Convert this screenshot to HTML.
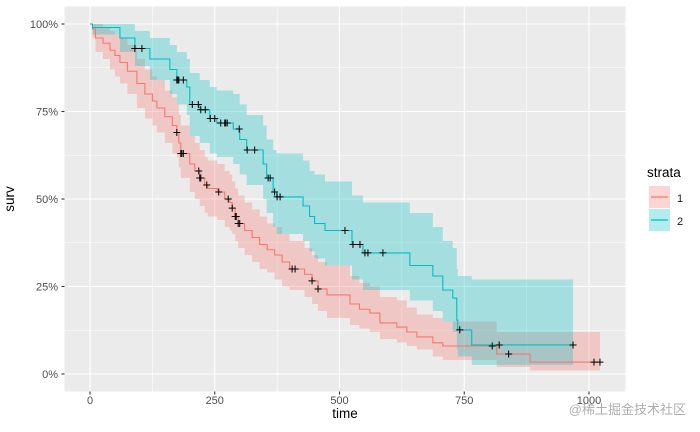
<!DOCTYPE html>
<html><head><meta charset="utf-8"><style>
html,body{margin:0;padding:0;background:#fff;}
svg{display:block;font-family:"Liberation Sans","Noto Sans CJK SC",sans-serif;}
</style></head><body>
<svg id="chart" width="700" height="432" viewBox="0 0 700 432">
<rect x="64.5" y="6.5" width="561" height="385" fill="#EBEBEB"/>
<g id="grid"></g>
<g id="bands"></g>
<g id="lines"></g>
<g id="censors"></g>
<g id="axes"></g>
<text x="14" y="199" transform="rotate(-90 14 199)" text-anchor="middle" font-size="13.5" fill="#000">surv</text>
<text x="345" y="418" text-anchor="middle" font-size="13.5" fill="#000">time</text>
<g>
<text x="647" y="177" font-size="13.5" fill="#000">strata</text>
<g>
<rect x="649" y="186" width="21" height="22" fill="#F8766D" fill-opacity="0.3"/>
<line x1="651" x2="668" y1="197" y2="197" stroke="#F8766D" stroke-width="1.2"/>
<text x="677" y="202" font-size="11" fill="#1a1a1a">1</text></g>
<g>
<rect x="649" y="209" width="21" height="22" fill="#00BFC4" fill-opacity="0.3"/>
<line x1="651" x2="668" y1="220" y2="220" stroke="#00BFC4" stroke-width="1.2"/>
<text x="677" y="225" font-size="11" fill="#1a1a1a">2</text></g>
</g>
<text x="686" y="414" text-anchor="end" font-size="13" fill="#9a9a9a" fill-opacity="0.8">@稀土掘金技术社区</text>
</svg>
<script>
const xTicks=[0,250,500,750,1000];
const xTickLabels=["0","250","500","750","1000"];
const yTicks=[0,25,50,75,100];
const yTickLabels=["0%","25%","50%","75%","100%"];
const redTimes=[0,5,11,26,40,50,60,75,94,110,125,134,150,165,174,178,182,200,210,220,230,236,255,270,280,285,291,297,310,325,340,355,370,385,400,430,445,457,475,521,540,561,581,615,635,655,687,707,815,882];
const redSurv=[100,98.6,96,94.5,92.5,91,89,86.5,83,80,78,76,73.5,71,69,66,63,60,58,56,54,53,52,50,49,47.4,45,43,41,39,37,35.5,34,32,30,28.5,26.6,24.3,22.6,20,18.5,17.4,14.6,13.4,12,10.6,8.9,8,5.7,3.4];
const redUpper=[100,100,100,99,98,97,96,94,90,87,85,84,81,79,77,74,71,68,66,64,62,61,60,58,57,55,53,51,49,47,45,43,42,40,38,36,34,32,31,28,26,25,22,21,19,17,16,15,12,12];
const redLower=[100,96,92,90,87,85,83,80,76,73,71,69,66,63,62,59,56,52,50,48,46,45,44,42,41,40,38,36,34,32,30,29,27,25,24,22,20,18,16,14,13,12,10,9,8,7,5,4,2,1];
const redEnd=1022;
const redCensor=[174,182,184,187,218,220,222,234,258,277,285,291,293,297,300,405,411,445,457,806,839,1010,1022];
const blueTimes=[0,5,60,90,120,160,174,194,200,220,240,254,287,300,314,347,354,367,374,427,440,450,471,525,547,641,687,707,727,735,737,765];
const blueSurv=[100,99,96,93,90,87,84,82,77,75.5,73,71.7,70,67,64,60,56,52,50.6,48,45,43,41,37,34.6,31,28,24,21.7,15.4,12.6,8.3];
const blueUpper=[100,100,100,98,96,94,92,90,86,84,82,81,80,77,74,71,67,64,63,61,58,57,55,51,49,46,42,38,36,30,28,27];
const blueLower=[100,97,92,88,84,80,77,74,68,66,63,62,60,57,54,50,46,42,40,38,35,33,31,27,24,21,18,15,12,7,5,2.6];
const blueEnd=968;
const blueCensor=[90,104,174,176,178,187,205,217,222,231,241,250,262,270,272,275,299,315,330,357,361,370,375,381,511,527,541,551,557,587,741,820,968];

const NS="http://www.w3.org/2000/svg";
const X=t=>90+t*0.499;
const Y=s=>374-s*3.5;
function mk(tag,attrs,parent){const e=document.createElementNS(NS,tag);for(const k in attrs)e.setAttribute(k,attrs[k]);parent.appendChild(e);return e;}
const grid=document.getElementById('grid'),axes=document.getElementById('axes');
for(let i=0;i<xTicks.length-1;i++){const m=(xTicks[i]+xTicks[i+1])/2;const l=mk('line',{x1:X(m),x2:X(m),y1:6.5,y2:391.5,stroke:'#fff','stroke-width':0.55},grid);

}
for(let i=0;i<yTicks.length-1;i++){const m=(yTicks[i]+yTicks[i+1])/2;const l=mk('line',{x1:64.5,x2:625.5,y1:Y(m),y2:Y(m),stroke:'#fff','stroke-width':0.55},grid);

}
xTicks.forEach((t,i)=>{const l=mk('line',{x1:X(t),x2:X(t),y1:6.5,y2:391.5,stroke:'#fff','stroke-width':1.1},grid);


mk('line',{x1:X(t),x2:X(t),y1:391.5,y2:394.5,stroke:'#333','stroke-width':1.1},axes);
const tx=mk('text',{x:X(t),y:404,'text-anchor':'middle','font-size':11,fill:'#4D4D4D'},axes);tx.textContent=xTickLabels[i];

});
yTicks.forEach((s,i)=>{const l=mk('line',{x1:64.5,x2:625.5,y1:Y(s),y2:Y(s),stroke:'#fff','stroke-width':1.1},grid);


mk('line',{x1:61.5,x2:64.5,y1:Y(s),y2:Y(s),stroke:'#333','stroke-width':1.1},axes);
const tx=mk('text',{x:58,y:Y(s)+4,'text-anchor':'end','font-size':11,fill:'#4D4D4D'},axes);tx.textContent=yTickLabels[i];

});
function stepPath(times,vals,end){let d='M'+X(times[0])+','+Y(vals[0]);for(let i=1;i<times.length;i++){d+='H'+X(times[i])+'V'+Y(vals[i]);}d+='H'+X(end);return d;}
function bandPath(times,up,lo,end){let pts=[[X(times[0]),Y(up[0])]];for(let i=1;i<times.length;i++){pts.push([X(times[i]),Y(up[i-1])]);pts.push([X(times[i]),Y(up[i])]);}pts.push([X(end),Y(up[up.length-1])]);
let low=[[X(times[0]),Y(lo[0])]];for(let i=1;i<times.length;i++){low.push([X(times[i]),Y(lo[i-1])]);low.push([X(times[i]),Y(lo[i])]);}low.push([X(end),Y(lo[lo.length-1])]);
return 'M'+pts.concat(low.reverse()).map(p=>p.join(',')).join('L')+'Z';}
function survAt(times,vals,t){let s=vals[0];for(let i=0;i<times.length;i++){if(times[i]<=t)s=vals[i];}return s;}
const bands=document.getElementById('bands'),lines=document.getElementById('lines'),cens=document.getElementById('censors');
[[redTimes,redSurv,redUpper,redLower,redEnd,redCensor,'#F8766D','1'],[blueTimes,blueSurv,blueUpper,blueLower,blueEnd,blueCensor,'#00BFC4','2']].forEach(([tm,sv,up,lo,end,cz,col,nm])=>{
const b=mk('path',{d:bandPath(tm,up,lo,end),fill:col,'fill-opacity':0.3},bands);


const l=mk('path',{d:stepPath(tm,sv,end),fill:'none',stroke:col,'stroke-width':1.1},lines);


cz.forEach(t=>{const x=X(t),y=Y(survAt(tm,sv,t));const c=mk('path',{d:`M${x-3.5},${y}H${x+3.5}M${x},${y-3.5}V${y+3.5}`,stroke:'#000','stroke-width':1},cens);

});
});
</script>
</body></html>
